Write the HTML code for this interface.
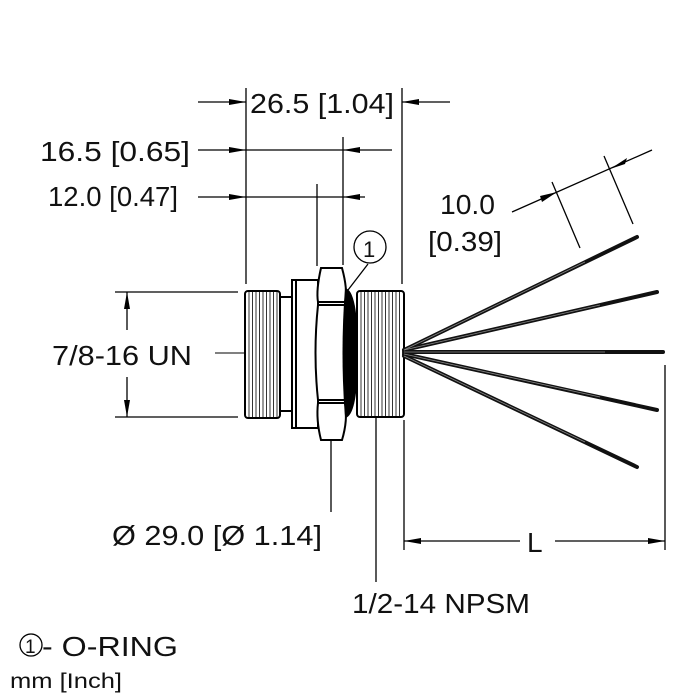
<!DOCTYPE html>
<html><head><style>
html,body{margin:0;padding:0;background:#fff;width:700px;height:698px;overflow:hidden}
svg{display:block}
text{font-family:"Liberation Sans",sans-serif;fill:#111}
</style></head><body>
<svg width="700" height="698" viewBox="0 0 700 698" xmlns="http://www.w3.org/2000/svg">
<g stroke="#000" stroke-width="1.3" fill="none">
<line x1="246" y1="88" x2="246" y2="284"/>
<line x1="402" y1="88" x2="402" y2="284"/>
<line x1="343" y1="137" x2="343" y2="265"/>
<line x1="317" y1="184" x2="317" y2="266"/>
<line x1="198" y1="102" x2="246" y2="102"/>
<line x1="450" y1="102" x2="402" y2="102"/>
<line x1="198" y1="150" x2="392" y2="150"/>
<line x1="198" y1="197" x2="365" y2="197"/>
<line x1="115" y1="292" x2="238" y2="292"/>
<line x1="115" y1="417" x2="238" y2="417"/>
<line x1="127" y1="330" x2="127" y2="292"/>
<line x1="127" y1="377" x2="127" y2="417"/>
<line x1="215" y1="353" x2="420" y2="353" stroke-width="1"/>
<line x1="331" y1="440" x2="331" y2="512"/>
<line x1="376" y1="418" x2="376" y2="582"/>
<line x1="404" y1="420" x2="404" y2="550"/>
<line x1="665" y1="365" x2="665" y2="550"/>
<line x1="520" y1="541" x2="404" y2="541"/>
<line x1="555" y1="541" x2="665" y2="541"/>
<line x1="552" y1="182" x2="580" y2="248"/>
<line x1="604" y1="156" x2="633" y2="224"/>
<line x1="512" y1="212" x2="652" y2="150"/>
<circle cx="370" cy="247" r="16"/>
<line x1="368" y1="264" x2="348" y2="290"/>
<circle cx="31" cy="645" r="11"/>
</g>
<g fill="#000">
<polygon points="229,99 246,102 229,105"/>
<polygon points="419,99 402,102 419,105"/>
<polygon points="229,147 246,150 229,153"/>
<polygon points="360,147 343,150 360,153"/>
<polygon points="229,194 246,197 229,200"/>
<polygon points="360,194 343,197 360,200"/>
<polygon points="124,309 127,292 130,309"/>
<polygon points="124,400 127,417 130,400"/>
<polygon points="421,538 404,541 421,544"/>
<polygon points="648,538 665,541 648,544"/>
<polygon points="540,196 557,192 542,202"/>
<polygon points="627,158 610,169 625,164"/>
</g>
<g stroke="#000" stroke-width="2" fill="#fff">
<rect x="280" y="297" width="12" height="114"/>
<rect x="245" y="291" width="35" height="127" rx="3"/>
<rect x="357" y="291" width="47" height="126" rx="3"/>
<path d="M292,280 L318,280 L318,428 L292,428 Z"/>
<line x1="296" y1="280" x2="296" y2="428"/>
<path d="M321,268 L342,268 Q348,290 345,302 L318,302 Q316,290 321,268 Z"/>
<path d="M318,305 L345,305 Q350,353 345,400 L318,400 Q313,353 318,305 Z"/>
<path d="M318,403 L345,403 Q348,420 342,440 L321,440 Q316,420 318,403 Z"/>
</g>
<path d="M345,288 Q358,290 358,353 Q358,416 345,418 Q340,353 345,288 Z" fill="#000"/>
<g stroke="#000" stroke-width="0.8">
<line x1="249" y1="292" x2="249" y2="417"/><line x1="252.5" y1="292" x2="252.5" y2="417"/><line x1="256" y1="292" x2="256" y2="417"/><line x1="259.5" y1="292" x2="259.5" y2="417"/><line x1="263" y1="292" x2="263" y2="417"/><line x1="266.5" y1="292" x2="266.5" y2="417"/><line x1="270" y1="292" x2="270" y2="417"/><line x1="273.5" y1="292" x2="273.5" y2="417"/><line x1="277" y1="292" x2="277" y2="417"/>
<line x1="361" y1="292" x2="361" y2="416"/><line x1="364.5" y1="292" x2="364.5" y2="416"/><line x1="368" y1="292" x2="368" y2="416"/><line x1="371.5" y1="292" x2="371.5" y2="416"/><line x1="375" y1="292" x2="375" y2="416"/><line x1="378.5" y1="292" x2="378.5" y2="416"/><line x1="382" y1="292" x2="382" y2="416"/><line x1="385.5" y1="292" x2="385.5" y2="416"/><line x1="389" y1="292" x2="389" y2="416"/><line x1="392.5" y1="292" x2="392.5" y2="416"/><line x1="396" y1="292" x2="396" y2="416"/><line x1="399.5" y1="292" x2="399.5" y2="416"/>
</g>
<g stroke="#111" stroke-width="4" stroke-linecap="round">
<line x1="404" y1="350" x2="637" y2="237"/>
<line x1="404" y1="350" x2="657" y2="292"/>
<line x1="404" y1="352" x2="663" y2="352"/>
<line x1="404" y1="354" x2="657" y2="410"/>
<line x1="404" y1="356" x2="637" y2="467"/>
</g>
<g stroke="#888" stroke-width="0.8">
<line x1="404" y1="350" x2="585" y2="262"/>
<line x1="404" y1="350" x2="600" y2="305"/>
<line x1="404" y1="352" x2="605" y2="352"/>
<line x1="404" y1="354" x2="600" y2="397"/>
<line x1="404" y1="356" x2="585" y2="442"/>
</g>
<g font-size="28">
<text x="250" y="113" textLength="144" lengthAdjust="spacingAndGlyphs">26.5 [1.04]</text>
<text x="40" y="161" textLength="150" lengthAdjust="spacingAndGlyphs">16.5 [0.65]</text>
<text x="48" y="206" textLength="130" lengthAdjust="spacingAndGlyphs">12.0 [0.47]</text>
<text x="52" y="365" textLength="140" lengthAdjust="spacingAndGlyphs">7/8-16 UN</text>
<text x="440" y="214" textLength="55" lengthAdjust="spacingAndGlyphs">10.0</text>
<text x="428" y="251" textLength="74" lengthAdjust="spacingAndGlyphs">[0.39]</text>
<text x="112" y="545" textLength="210" lengthAdjust="spacingAndGlyphs">Ø 29.0  [Ø 1.14]</text>
<text x="527" y="552">L</text>
<text x="352" y="613" textLength="178" lengthAdjust="spacingAndGlyphs">1/2-14 NPSM</text>
<text x="42" y="656" textLength="136" lengthAdjust="spacingAndGlyphs">- O-RING</text>
<text x="363" y="257" font-size="22">1</text>
<text x="25" y="653" font-size="19">1</text>
<text x="10" y="688" font-size="21" textLength="112" lengthAdjust="spacingAndGlyphs">mm [Inch]</text>
</g>
</svg>
</body></html>
